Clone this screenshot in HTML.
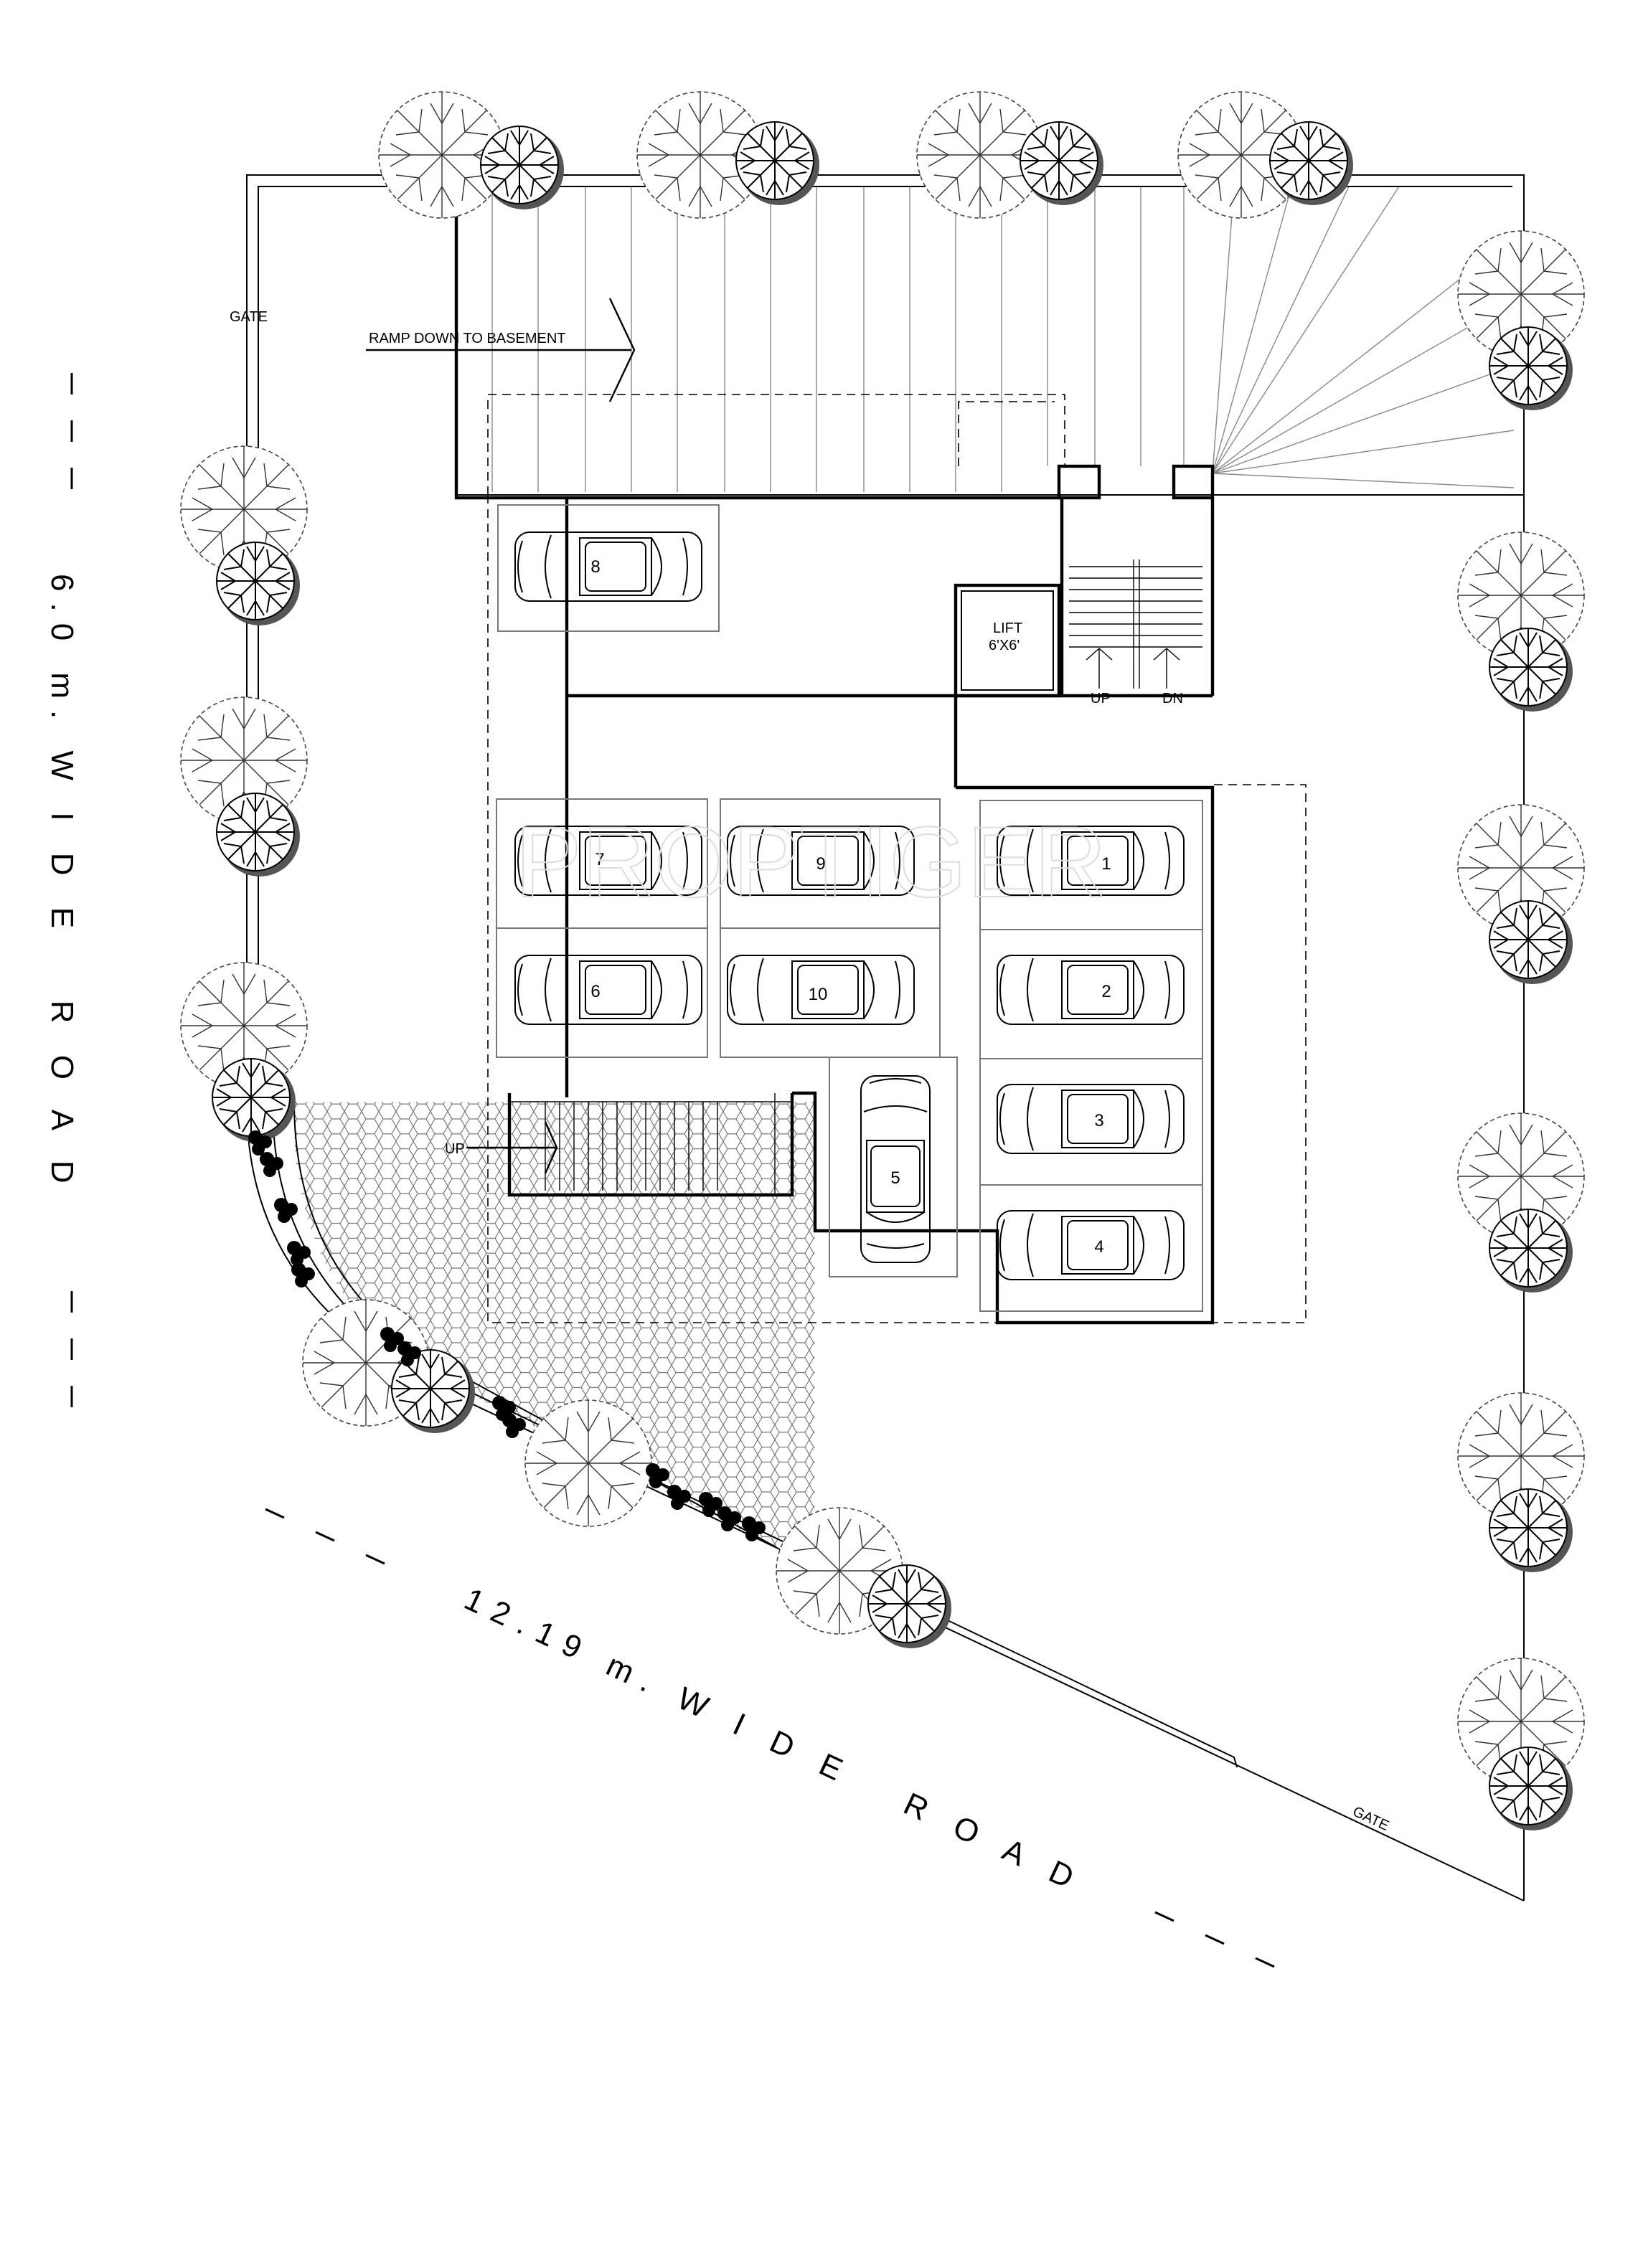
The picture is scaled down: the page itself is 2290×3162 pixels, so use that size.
<!DOCTYPE html>
<html><head><meta charset="utf-8"><style>
html,body{margin:0;padding:0;background:#fff}
svg{display:block}
text{font-family:"Liberation Sans",sans-serif;fill:#000}
</style></head><body>
<svg width="2290" height="3162" viewBox="0 0 1145 1581" xmlns="http://www.w3.org/2000/svg">
<defs>
<pattern id="hex" width="12" height="10.4" patternUnits="userSpaceOnUse">
<path d="M0 5.2 L3 0 L9 0 L12 5.2 L9 10.4 L3 10.4 Z" fill="none" stroke="#777" stroke-width="0.6"/>
</pattern>
<g id="tl">
<circle r="44" fill="#fff" stroke="#444" stroke-width="0.8" stroke-dasharray="3 2"/>
<g stroke="#333" stroke-width="0.7" fill="none">
<path d="M0 0L0-44M0 0L31-31M0 0L44 0M0 0L31 31M0 0L0 44M0 0L-31 31M0 0L-44 0M0 0L-31-31"/>
<path d="M0-22L-8-36M0-22L8-36M16-16L14-32M16-16L32-14M22 0L36-8M22 0L36 8M16 16L32 14M16 16L14 32M0 22L8 36M0 22L-8 36M-16 16L-14 32M-16 16L-32 14M-22 0L-36 8M-22 0L-36-8M-16-16L-32-14M-16-16L-14-32"/>
</g></g>
<g id="td">
<circle cx="3" cy="3" r="28" fill="#555"/>
<circle r="27" fill="#fff" stroke="#000" stroke-width="1"/>
<g stroke="#000" stroke-width="1" fill="none">
<path d="M0 0L0-27M0 0L19-19M0 0L27 0M0 0L19 19M0 0L0 27M0 0L-19 19M0 0L-27 0M0 0L-19-19"/>
<path d="M0-14L-6-24M0-14L6-24M14 0L24-6M14 0L24 6M0 14L6 24M0 14L-6 24M-14 0L-24 6M-14 0L-24-6M10-10L8-22M10-10L22-8M10 10L22 8M10 10L8 22M-10 10L-8 22M-10 10L-22 8M-10-10L-22-8M-10-10L-8-22"/>
</g></g>
<g id="car" fill="none" stroke="#000" stroke-width="1">
<rect x="-65" y="-24" width="130" height="48" rx="10"/>
<path d="M-40 -22 Q-48 0 -40 22 M-20 -20 L30 -20 L30 20 L-20 20 Z M30 -20 Q44 0 30 20 M-60 -18 Q-66 0 -60 18 M52 -20 Q58 0 52 20"/>
<rect x="-16" y="-17" width="42" height="34" rx="4"/>
</g>
<g id="bush"><circle r="5" fill="#000"/><circle cx="7" cy="3" r="4.5" fill="#000"/><circle cx="2" cy="8" r="4.5" fill="#000"/></g>
</defs>

<path d="M205 768 L568 768 L568 1095 L540 1078 L300 958 Q205 900 205 780 Z" fill="url(#hex)"/>

<g stroke="#888" stroke-width="0.7">
<path d="M343 130V343M375 130V343M408 130V343M440 130V343M472 130V343M505 130V343M537 130V343M569 130V343M602 130V343M634 130V343M666 130V343M698 130V343M730 130V325M763 130V325M795 130V325M825 130V325"/>
<path d="M845 330L860 130M845 330L900 130M845 330L940 130M845 330L975 130M845 330L1055 165M845 330L1055 210M845 330L1055 255M845 330L1055 300M845 330L1055 340"/>
</g>

<g fill="none" stroke="#000" stroke-width="1">
<path d="M172 770 V122 H1062 V1325"/>
<path d="M180 768 V130 H1054"/>
<path d="M172 770 Q172 900 300 965 L1062 1325"/>
<path d="M205 768 Q205 890 305 950 L540 1078"/>
<path d="M190 770 Q190 895 302 958 L860 1225 L862 1232"/>
<path d="M318 345 H1062"/>
</g>

<g fill="none" stroke="#000" stroke-width="0.8" stroke-dasharray="6 4">
<path d="M340 345 V275 H742 V325"/>
<path d="M668 325 V280 H735"/>
<path d="M340 345 V922 H910 V547 H845"/>
</g>

<g fill="none" stroke="#000" stroke-width="2.2">
<path d="M318 122 V347 H740"/>
<path d="M395 347 V765"/>
<path d="M395 485 H845"/>
<path d="M666 549 H845 V922 H695 V858 H568 V762 H552"/>
<rect x="738" y="325" width="28" height="22"/>
<rect x="818" y="325" width="27" height="22"/>
<path d="M740 347 V485 M845 347 V485"/>
<rect x="666" y="408" width="72" height="77"/>
<path d="M666 485 V549"/>
<path d="M355 762 V833 H552 V762"/>
</g>
<rect x="670" y="412" width="64" height="69" fill="none" stroke="#000" stroke-width="1"/>
<g stroke="#000" stroke-width="0.7">
<path d="M745 395H838M745 403H838M745 411H838M745 419H838M745 427H838M745 435H838M745 443H838M745 451H838"/>
<path d="M790 390V480M794 390V480M766 452V480M766 452L757 460M766 452L775 460M813 452V480M813 452L804 460M813 452L822 460"/>
<path d="M380 768V830M390 768V830M400 768V830M410 768V830M420 768V830M430 768V830M440 768V830M450 768V830M460 768V830M470 768V830M480 768V830M490 768V830M500 768V830"/>
<path d="M355 768 H552 M540 762V833"/>
</g>

<g fill="none" stroke="#777" stroke-width="1">
<rect x="347" y="352" width="154" height="88"/>
<rect x="346" y="557" width="147" height="90"/><rect x="346" y="647" width="147" height="90"/>
<rect x="502" y="557" width="153" height="90"/><rect x="502" y="647" width="153" height="90"/>
<rect x="683" y="558" width="155" height="90"/><rect x="683" y="648" width="155" height="90"/>
<rect x="683" y="738" width="155" height="88"/><rect x="683" y="826" width="155" height="88"/>
<rect x="578" y="737" width="89" height="153"/>
</g>
<use href="#car" x="424" y="395"/>
<use href="#car" x="424" y="600"/><use href="#car" x="572" y="600"/><use href="#car" x="760" y="600"/>
<use href="#car" x="424" y="690"/><use href="#car" x="572" y="690"/><use href="#car" x="760" y="690"/>
<use href="#car" x="760" y="780"/><use href="#car" x="760" y="868"/>
<use href="#car" transform="translate(624 815) rotate(90)"/>
<g font-size="12" text-anchor="middle">
<text x="415" y="399">8</text><text x="418" y="603">7</text><text x="572" y="606">9</text><text x="771" y="606">1</text>
<text x="415" y="695">6</text><text x="570" y="697">10</text><text x="771" y="695">2</text><text x="766" y="785">3</text><text x="766" y="873">4</text><text x="624" y="825">5</text>
</g>
<text x="565" y="625" font-size="70" text-anchor="middle" style="fill:none;stroke:#ddd;stroke-width:1">PROPTIGER</text>

<g font-size="10">
<text x="160" y="224">GATE</text>
<text x="257" y="239">RAMP DOWN TO BASEMENT</text>
<text x="692" y="441">LIFT</text><text x="689" y="453">6'X6'</text>
<text x="760" y="490">UP</text><text x="810" y="490">DN</text>
<text x="310" y="804">UP</text>
<text x="942" y="1265" transform="rotate(25 942 1265)">GATE</text>
</g>
<g fill="none" stroke="#000" stroke-width="1.2">
<path d="M255 244 H440 M425 208 L442 244 L425 280"/>
<path d="M325 800 H388 M380 782 L388 800 L380 818"/>
</g>

<g font-size="22" letter-spacing="8">
<text x="36" y="400" transform="rotate(90 36 400)" xml:space="preserve">6.0 m. W I D E   R O A D</text>
<text x="322" y="1120" transform="rotate(25 322 1120)" xml:space="preserve">12.19 m. W I D E   R O A D</text>
</g>
<g stroke="#000" stroke-width="1.5">
<path d="M50 260V275M50 293V308M50 326V341M50 900V915M50 933V948M50 966V981"/>
<path d="M185 1052L198 1058M220 1068L233 1074M255 1084L268 1090M805 1333L818 1339M840 1349L853 1355M875 1365L888 1371"/>
</g>

<use href="#tl" x="308" y="108"/><use href="#td" x="362" y="115"/>
<use href="#tl" x="488" y="108"/><use href="#td" x="540" y="112"/>
<use href="#tl" x="683" y="108"/><use href="#td" x="738" y="112"/>
<use href="#tl" x="865" y="108"/><use href="#td" x="912" y="112"/>
<use href="#tl" x="1060" y="205"/><use href="#td" x="1065" y="255"/>
<use href="#tl" x="1060" y="415"/><use href="#td" x="1065" y="465"/>
<use href="#tl" x="1060" y="605"/><use href="#td" x="1065" y="655"/>
<use href="#tl" x="1060" y="820"/><use href="#td" x="1065" y="870"/>
<use href="#tl" x="1060" y="1015"/><use href="#td" x="1065" y="1065"/>
<use href="#tl" x="1060" y="1200"/><use href="#td" x="1065" y="1245"/>
<use href="#tl" x="170" y="355"/><use href="#td" x="178" y="405"/>
<use href="#tl" x="170" y="530"/><use href="#td" x="178" y="580"/>
<use href="#tl" x="170" y="715"/><use href="#td" x="175" y="765"/>
<use href="#tl" x="255" y="950"/><use href="#td" x="300" y="968"/>
<use href="#tl" x="410" y="1020"/>
<use href="#tl" x="585" y="1095"/><use href="#td" x="632" y="1118"/>

<use href="#bush" x="178" y="793"/><use href="#bush" x="186" y="808"/><use href="#bush" x="196" y="840"/>
<use href="#bush" x="205" y="870"/><use href="#bush" x="208" y="885"/><use href="#bush" x="270" y="930"/>
<use href="#bush" x="282" y="940"/><use href="#bush" x="348" y="978"/><use href="#bush" x="355" y="990"/>
<use href="#bush" x="455" y="1025"/><use href="#bush" x="470" y="1040"/><use href="#bush" x="492" y="1045"/>
<use href="#bush" x="505" y="1055"/><use href="#bush" x="522" y="1062"/>
</svg>
</body></html>
